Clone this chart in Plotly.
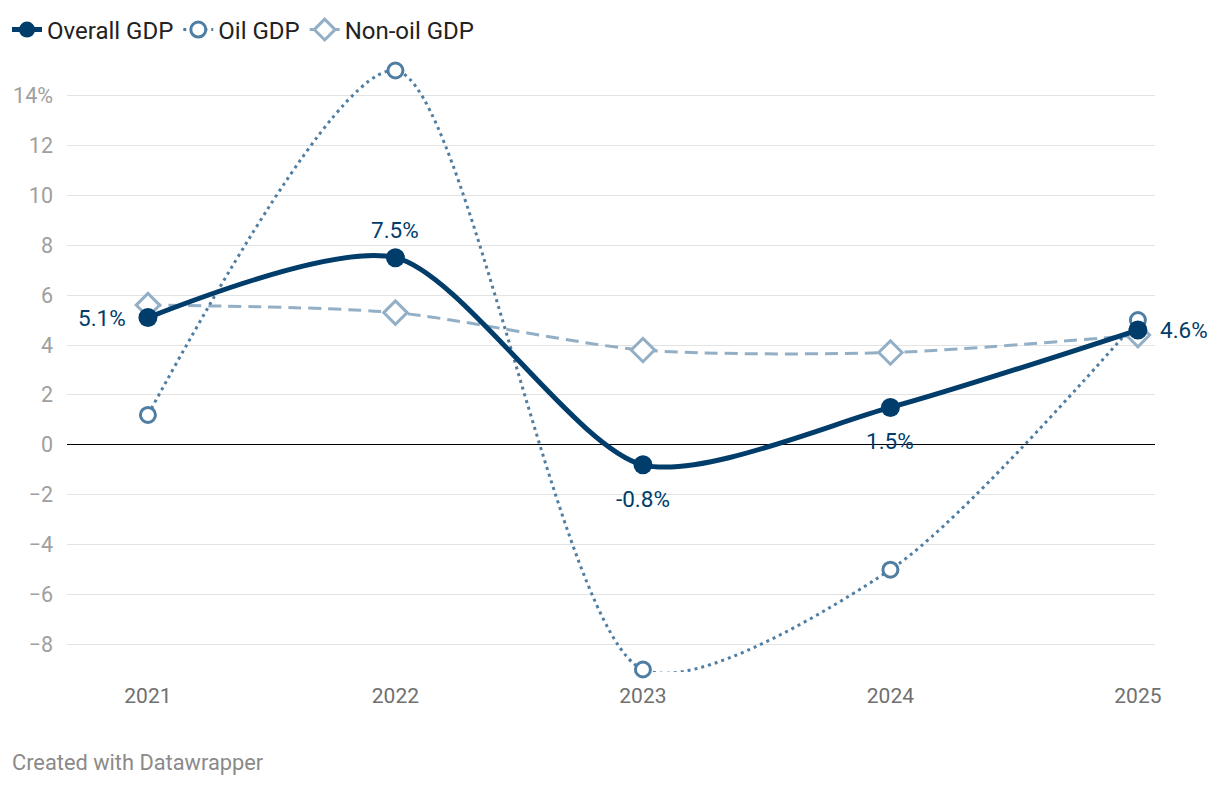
import plotly.graph_objects as go

years = [2021, 2022, 2023, 2024, 2025]
year_labels = ["2021", "2022", "2023", "2024", "2025"]
overall = [5.1, 7.5, -0.8, 1.5, 4.6]
oil = [1.2, 15.0, -9.0, -5.0, 5.0]
nonoil = [5.6, 5.3, 3.8, 3.7, 4.4]
overall_labels = ["5.1%", "7.5%", "-0.8%", "1.5%", "4.6%"]
ytick_vals = [-8, -6, -4, -2, 0, 2, 4, 6, 8, 10, 12, 14]
ytick_text = ["\u22128", "\u22126", "\u22124", "\u22122", "0", "2", "4", "6", "8", "10", "12", "14%"]

C_OVERALL = "#003d6b"
C_OIL = "#4f7ea2"
C_NON = "#93afc6"
SMOOTH = 0.75

W, H = 1204, 770
L, R, T, B = 59, 57, 60, 106
PW, PH = W - L - R, H - T - B

fig = go.Figure()
fig.add_trace(go.Scatter(
    x=years, y=nonoil, name="Non-oil GDP", mode="lines+markers", cliponaxis=False,
    line=dict(color=C_NON, width=3, dash="13px,7px", shape="spline", smoothing=SMOOTH),
    marker=dict(symbol="diamond", size=18, color="white", line=dict(color=C_NON, width=3)),
))
fig.add_trace(go.Scatter(
    x=years, y=oil, name="Oil GDP", mode="lines+markers", cliponaxis=False,
    line=dict(color=C_OIL, width=3, dash="3px,4px", shape="spline", smoothing=SMOOTH),
    marker=dict(symbol="circle", size=15, color="white", line=dict(color=C_OIL, width=3)),
))
fig.add_trace(go.Scatter(
    x=years, y=overall, name="Overall GDP", mode="lines+markers", cliponaxis=False,
    line=dict(color=C_OVERALL, width=5, shape="spline", smoothing=SMOOTH),
    marker=dict(symbol="circle", size=19, color=C_OVERALL),
))

positions = [("right", "middle", -20, 0), ("center", "bottom", 0, 13),
             ("center", "top", 0, -19), ("center", "top", 0, -19), ("left", "middle", 20, 0)]
for x, y, t, (xa, ya, dx, dy) in zip(years, overall, overall_labels, positions):
    fig.add_annotation(x=x, y=y, text=t, showarrow=False, xanchor=xa, yanchor=ya,
                       xshift=dx, yshift=dy, font=dict(size=22.5, color=C_OVERALL, family="Roboto"))

fig.add_annotation(text="Created with Datawrapper", xref="paper", yref="paper",
                   x=(2 - L) / PW, y=-(754 - (T + PH)) / PH, xanchor="left", yanchor="middle",
                   showarrow=False, font=dict(size=21.8, color="#8a8a8a", family="Roboto"))

fig.update_layout(
    width=W, height=H,
    margin=dict(l=L, r=R, t=T, b=B, autoexpand=False),
    plot_bgcolor="white", paper_bgcolor="white",
    font=dict(family="Roboto", size=20, color="#333333"),
    showlegend=True,
    legend=dict(orientation="h", x=(-1 - L) / PW, y=1 + (T - 22) / PH, xanchor="left", yanchor="middle",
                traceorder="reversed", font=dict(size=24, color="#222222"),
                itemwidth=30, tracegroupgap=0),
    xaxis=dict(range=[2020.673, 2025.069], tickvals=years, ticktext=year_labels,
               showgrid=False, zeroline=False, showline=False, ticks="",
               tickfont=dict(size=21, color="#707070"), ticklabelstandoff=9, automargin=False),
    yaxis=dict(range=[-9.1, 15.1], tickvals=ytick_vals, ticktext=ytick_text,
               showgrid=True, gridcolor="#e3e3e3", gridwidth=1,
               zeroline=True, zerolinecolor="#000000", zerolinewidth=1,
               showline=False, ticks="", tickfont=dict(size=21.5, color="#a0a0a0"),
               ticklabelstandoff=13, automargin=False),
)

fig.write_html("out.html")
